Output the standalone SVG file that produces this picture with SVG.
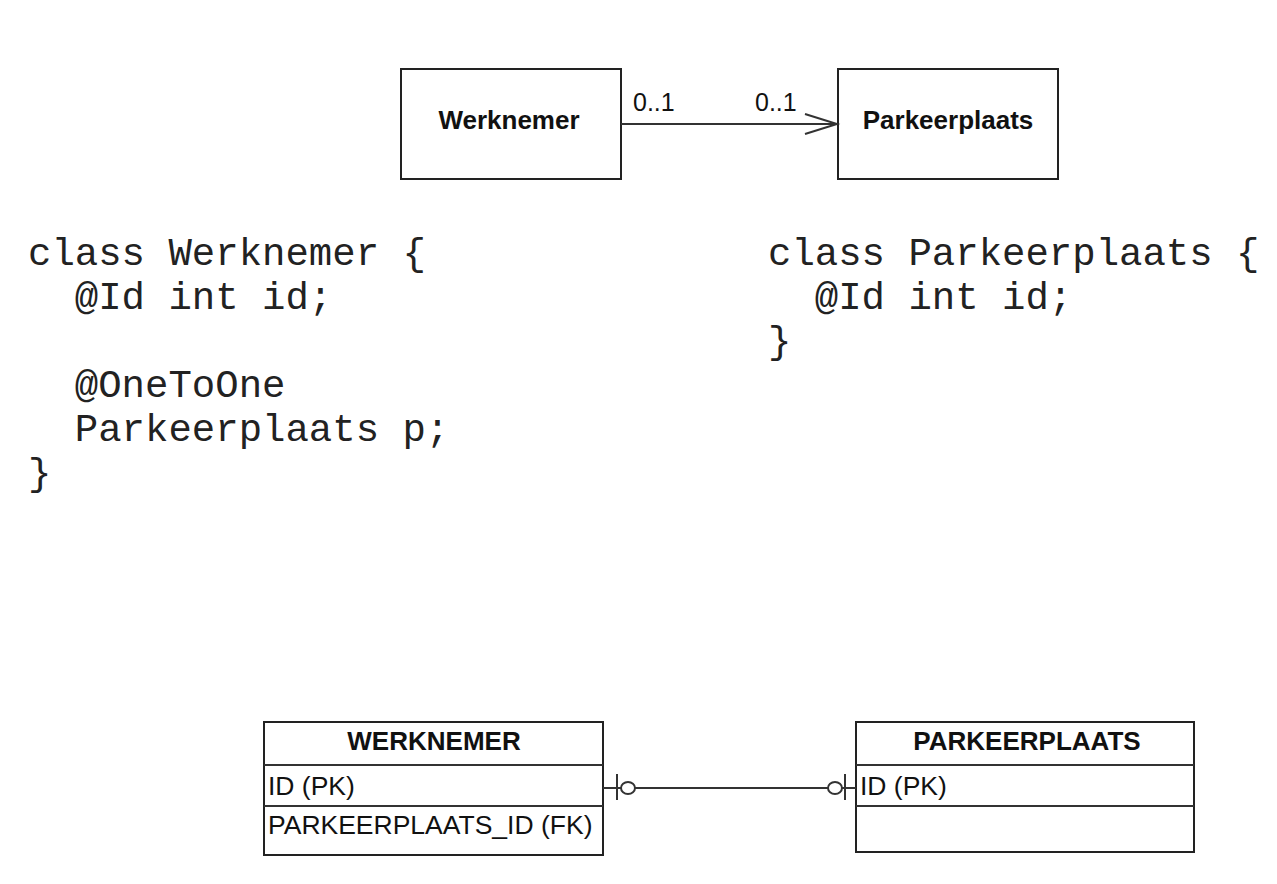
<svg xmlns="http://www.w3.org/2000/svg" width="1277" height="884" viewBox="0 0 1277 884">
<style>
.box{fill:#fff;stroke:#222;stroke-width:2}
.ln{fill:none;stroke:#333;stroke-width:2}
.uml{font-family:"Liberation Sans",Arial,sans-serif;font-weight:bold;font-size:26px;fill:#111;text-anchor:middle}
.mult{font-family:"Liberation Sans",Arial,sans-serif;font-size:25px;fill:#111}
.code{font-family:"Liberation Mono","Courier New",monospace;font-size:39px;fill:#222;white-space:pre}
.hdr{font-family:"Liberation Sans",Arial,sans-serif;font-weight:bold;font-size:26px;fill:#111;text-anchor:middle}
.row{font-family:"Liberation Sans",Arial,sans-serif;font-size:26.5px;fill:#111}
</style>
<rect width="1277" height="884" fill="#fff"/>
<g id="uml-werknemer">
<rect class="box" x="401" y="69" width="220" height="110"/>
<text class="uml" x="509" y="129">Werknemer</text>
</g>
<g id="uml-parkeerplaats">
<rect class="box" x="838" y="69" width="220" height="110"/>
<text class="uml" x="948" y="129">Parkeerplaats</text>
</g>
<g id="code-werknemer">
<text class="code" x="28" y="265">class Werknemer {</text>
<text class="code" x="28" y="309">  @Id int id;</text>
<text class="code" x="28" y="397">  @OneToOne</text>
<text class="code" x="28" y="441">  Parkeerplaats p;</text>
<text class="code" x="28" y="485">}</text>
</g>
<g id="code-parkeerplaats">
<text class="code" x="768" y="265">class Parkeerplaats {</text>
<text class="code" x="768" y="309">  @Id int id;</text>
<text class="code" x="768" y="353">}</text>
</g>
<g id="er-werknemer">
<rect class="box" x="264" y="722" width="339" height="133"/>
<line class="ln" x1="264" y1="765" x2="603" y2="765"/>
<line class="ln" x1="264" y1="806" x2="603" y2="806"/>
<text class="hdr" x="434" y="750">WERKNEMER</text>
<text class="row" x="268" y="795">ID (PK)</text>
<text class="row" x="268" y="834">PARKEERPLAATS_ID (FK)</text>
</g>
<g id="er-parkeerplaats">
<rect class="box" x="856" y="722" width="338" height="130"/>
<line class="ln" x1="856" y1="765" x2="1194" y2="765"/>
<line class="ln" x1="856" y1="806" x2="1194" y2="806"/>
<text class="hdr" x="1027" y="750">PARKEERPLAATS</text>
<text class="row" x="860" y="795">ID (PK)</text>
</g>
<g id="connectors">
<line class="ln" x1="621" y1="124" x2="837" y2="124"/>
<polyline class="ln" points="805,114 837,124 805,134"/>
<text class="mult" x="633" y="111">0..1</text>
<text class="mult" x="755" y="111">0..1</text>
<line class="ln" x1="603" y1="788" x2="621" y2="788"/>
<line class="ln" x1="617" y1="774" x2="617" y2="800"/>
<ellipse class="ln" cx="628" cy="788" rx="7" ry="6"/>
<line class="ln" x1="635" y1="788" x2="828" y2="788"/>
<ellipse class="ln" cx="835" cy="788" rx="7" ry="6"/>
<line class="ln" x1="842" y1="788" x2="856" y2="788"/>
<line class="ln" x1="845" y1="774" x2="845" y2="800"/>
</g>
</svg>
